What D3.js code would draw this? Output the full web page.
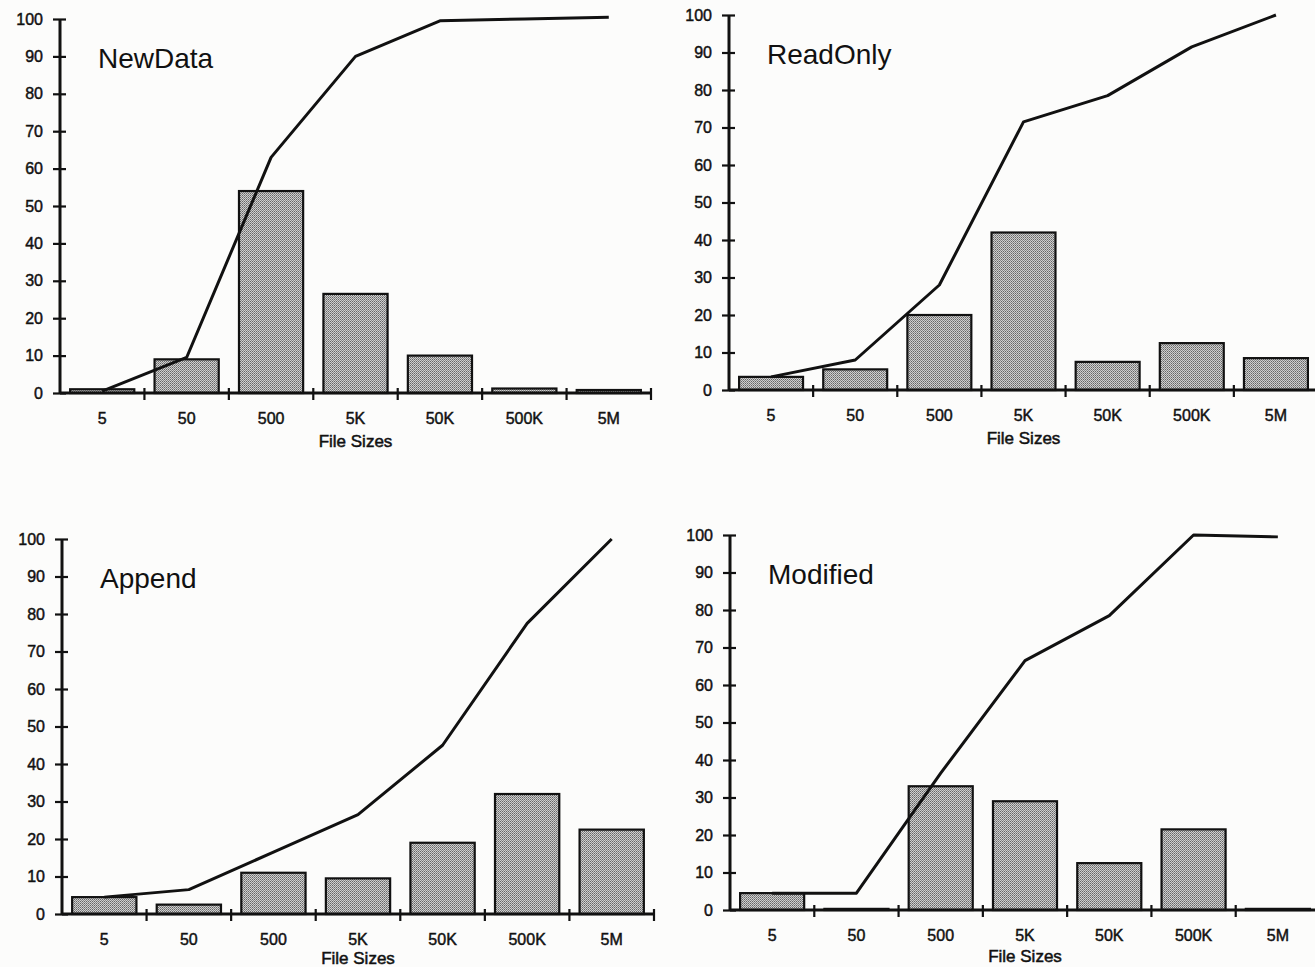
<!DOCTYPE html>
<html>
<head>
<meta charset="utf-8">
<script src="https://cdn.jsdelivr.net/npm/d3@7"></script>
<style>
  body { margin: 0; background: #fcfcfb; }
  svg text { font-family: "Liberation Sans", Arial, Helvetica, sans-serif; fill: #111; }
  .tick text { font-size: 16px; stroke: #111; stroke-width: 0.45px; }
  .title { font-size: 28px; }
  .xlabel { font-size: 17px; stroke: #111; stroke-width: 0.5px; }
</style>
</head>
<body>
<div id="chart"></div>
<script>
// file size buckets
var sizes = ["5", "50", "500", "5K", "50K", "500K", "5M"];
var yTicks = [0, 10, 20, 30, 40, 50, 60, 70, 80, 90, 100];
var names = ["NewData", "ReadOnly", "Append", "Modified"];

// percent of files per bucket (bars)
var newDataPct  = [1, 9, 54, 26.5, 10, 1.2, 0.8];
var readOnlyPct = [3.5, 5.5, 20, 42, 7.5, 12.5, 8.5];
var appendPct   = [4.5, 2.5, 11, 9.5, 19, 32, 22.5];
var modifiedPct = [4.5, 0.3, 33, 29, 12.5, 21.5, 0.3];

// cumulative percent (line)
var newDataCum  = [0.5, 9.5, 63, 90, 99.5, 100, 100.5];
var readOnlyCum = [3.5, 8, 28, 71.5, 78.5, 91.5, 100];
var appendCum   = [4.5, 6.5, 16.5, 26.5, 45, 77.5, 100];
var modifiedCum = [4.5, 4.5, 36.5, 66.5, 78.5, 100, 99.5];

var pctSeries = [newDataPct, readOnlyPct, appendPct, modifiedPct];
var cumSeries = [newDataCum, readOnlyCum, appendCum, modifiedCum];

// where each panel sits on the page (left, top of y=100, width, height, gap to "File Sizes")
var layout = [
  {left: 60,  top: 19,  w: 591, h: 374, lab: 54},
  {left: 729, top: 15,  w: 589, h: 375, lab: 54},
  {left: 62,  top: 539, w: 592, h: 375, lab: 50},
  {left: 730, top: 535, w: 590, h: 375, lab: 52}
];

var svg = d3.select('#chart').append('svg')
  .attr('width', 1315)
  .attr('height', 967);

var defs = svg.append('defs');
var pat = defs.append('pattern')
  .attr('id', 'stipple')
  .attr('patternUnits', 'userSpaceOnUse')
  .attr('width', 2).attr('height', 2);
pat.append('rect').attr('width', 2).attr('height', 2).attr('fill', '#cfcfcf');
pat.append('rect').attr('x', 0).attr('y', 0).attr('width', 1).attr('height', 1).attr('fill', '#666');
pat.append('rect').attr('x', 1).attr('y', 1).attr('width', 1).attr('height', 1).attr('fill', '#888');

names.forEach(function (name, i) {
  var L = layout[i];
  var g = svg.append('g').attr('transform', 'translate(' + L.left + ',' + L.top + ')');

  var x = d3.scaleBand()
    .domain(sizes)
    .range([0, L.w])
    .paddingInner(0.24)
    .paddingOuter(0.12);

  var y = d3.scaleLinear()
    .domain([0, 100])
    .range([L.h, 0]);

  // bars
  g.selectAll('rect.bar')
    .data(pctSeries[i])
    .enter().append('rect')
    .attr('class', 'bar')
    .attr('x', function (d, j) { return x(sizes[j]); })
    .attr('y', function (d) { return y(d); })
    .attr('width', x.bandwidth())
    .attr('height', function (d) { return y(0) - y(d); })
    .style('fill', 'url(#stipple)')
    .style('stroke', '#111')
    .style('stroke-width', 2.2);

  // cumulative line
  var line = d3.line()
    .x(function (d, j) { return x(sizes[j]) + x.bandwidth() / 2; })
    .y(function (d) { return y(d); });

  g.append('path')
    .datum(cumSeries[i])
    .attr('d', line)
    .style('fill', 'none')
    .style('stroke', '#111')
    .style('stroke-width', 3)
    .style('stroke-linejoin', 'round');

  // y axis
  var yAxis = d3.axisLeft(y).tickValues(yTicks).tickSize(7).tickPadding(10);
  var ya = g.append('g').call(yAxis);
  ya.select('.domain').remove();
  ya.selectAll('.tick line').attr('x1', -7).attr('x2', 6).style('stroke', '#111').style('stroke-width', 2.2);
  ya.append('line')
    .attr('x1', 0).attr('x2', 0).attr('y1', y(100)).attr('y2', y(0))
    .style('stroke', '#111').style('stroke-width', 3);

  // x axis: labels under band centers, ticks at band edges
  var xAxis = d3.axisBottom(x).tickSize(0).tickPadding(20);
  var xa = g.append('g').attr('transform', 'translate(0,' + L.h + ')').call(xAxis);
  xa.select('.domain').remove();
  xa.selectAll('.tick line').remove();
  xa.append('line')
    .attr('x1', 0).attr('x2', L.w).attr('y1', 0).attr('y2', 0)
    .style('stroke', '#111').style('stroke-width', 3);
  xa.selectAll('line.edge')
    .data(sizes)
    .enter().append('line')
    .attr('class', 'edge')
    .attr('x1', function (d) { return x(d) + x.bandwidth() + x.step() * x.paddingInner() / 2; })
    .attr('x2', function (d) { return x(d) + x.bandwidth() + x.step() * x.paddingInner() / 2; })
    .attr('y1', -5).attr('y2', 7)
    .style('stroke', '#111').style('stroke-width', 2.2);

  g.append('text')
    .attr('class', 'xlabel')
    .attr('x', L.w / 2)
    .attr('y', L.h + L.lab)
    .attr('text-anchor', 'middle')
    .text('File Sizes');

  g.append('text')
    .attr('class', 'title')
    .attr('x', 38)
    .attr('y', y(87))
    .text(name);
});
</script>
</body>
</html>
